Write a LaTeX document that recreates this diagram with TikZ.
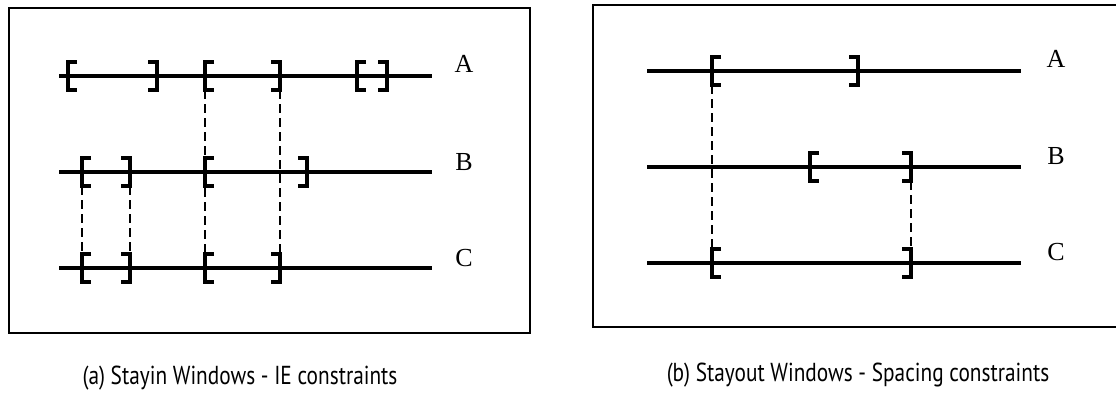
\documentclass[tikz,border=0pt]{standalone}
\usepackage{fontspec}
\setmainfont{Liberation Serif}
\setsansfont[FakeStretch=0.82]{PT Sans}
\usepackage{tikz}
\usetikzlibrary{positioning}

\begin{document}
\begin{tikzpicture}[x=0.5pt, y=-0.5pt,
    frame/.style={line width=1pt},
    track/.style={line width=2.2pt},
    brk/.style={line width=2.2pt},
    link/.style={line width=1pt, dash pattern=on 4.5pt off 2.5pt},
    trk/.style={font=\fontsize{13}{15}\selectfont},
    caption/.style={font=\fontsize{13}{15}\sffamily}]
    \useasboundingbox (0,0) rectangle (1116,398);

    % (a) stayin windows
    \draw[frame] (9,8) rectangle (530,333);
    \draw[track] (59,76) -- (432,76);
    \draw[track] (59,172) -- (432,172);
    \draw[track] (59,268) -- (432,268);
    \node[trk] (lblLA) at (464,64) {A};
    \node[trk] (lblLB) at (464,162) {B};
    \node[trk] (lblLC) at (464,258) {C};

    % opening brackets
    \foreach \n/\x/\y in {lA1/68/76, lA3/205/76, lA5/357/76, lB1/82/172, lB3/205/172, lC1/82/268, lC3/205/268,
                          rA1/712/71, rB1/810/167, rC1/712/263} {
        \draw[brk] (\x+9,\y-14) -- (\x,\y-14) -- (\x,\y+14) -- (\x+9,\y+14);
        \coordinate (\n-t) at (\x,\y-14);
        \coordinate (\n-b) at (\x,\y+14);
    }
    % closing brackets
    \foreach \n/\x/\y in {lA2/157/76, lA4/280/76, lA6/387/76, lB2/130/172, lB4/307/172, lC2/130/268, lC4/280/268,
                          rA2/858/71, rB2/911/167, rC2/911/263} {
        \draw[brk] (\x-9,\y-14) -- (\x,\y-14) -- (\x,\y+14) -- (\x-9,\y+14);
        \coordinate (\n-t) at (\x,\y-14);
        \coordinate (\n-b) at (\x,\y+14);
    }

    \draw[link] (lA3-b) -- (lC3-t);
    \draw[link] (lA4-b) -- (lC4-t);
    \draw[link] (lB1-b) -- (lC1-t);
    \draw[link] (lB2-b) -- (lC2-t);

    \node[caption] (capA) at (240,378) {(a) Stayin Windows - IE constraints};

    % (b) stayout windows
    \draw[frame] (1116,5) -- (593,5) -- (593,327) -- (1116,327);
    \draw[track] (647,71) -- (1021,71);
    \draw[track] (647,167) -- (1021,167);
    \draw[track] (647,263) -- (1021,263);
    \node[trk] (lblRA) at (1056,59) {A};
    \node[trk] (lblRB) at (1056,156) {B};
    \node[trk] (lblRC) at (1056,252) {C};

    \draw[link] (rA1-b) -- (rC1-t);
    \draw[link] (rB2-b) -- (rC2-t);

    \node[caption] (capB) at (858,375) {(b) Stayout Windows - Spacing constraints};
\end{tikzpicture}
\end{document}
